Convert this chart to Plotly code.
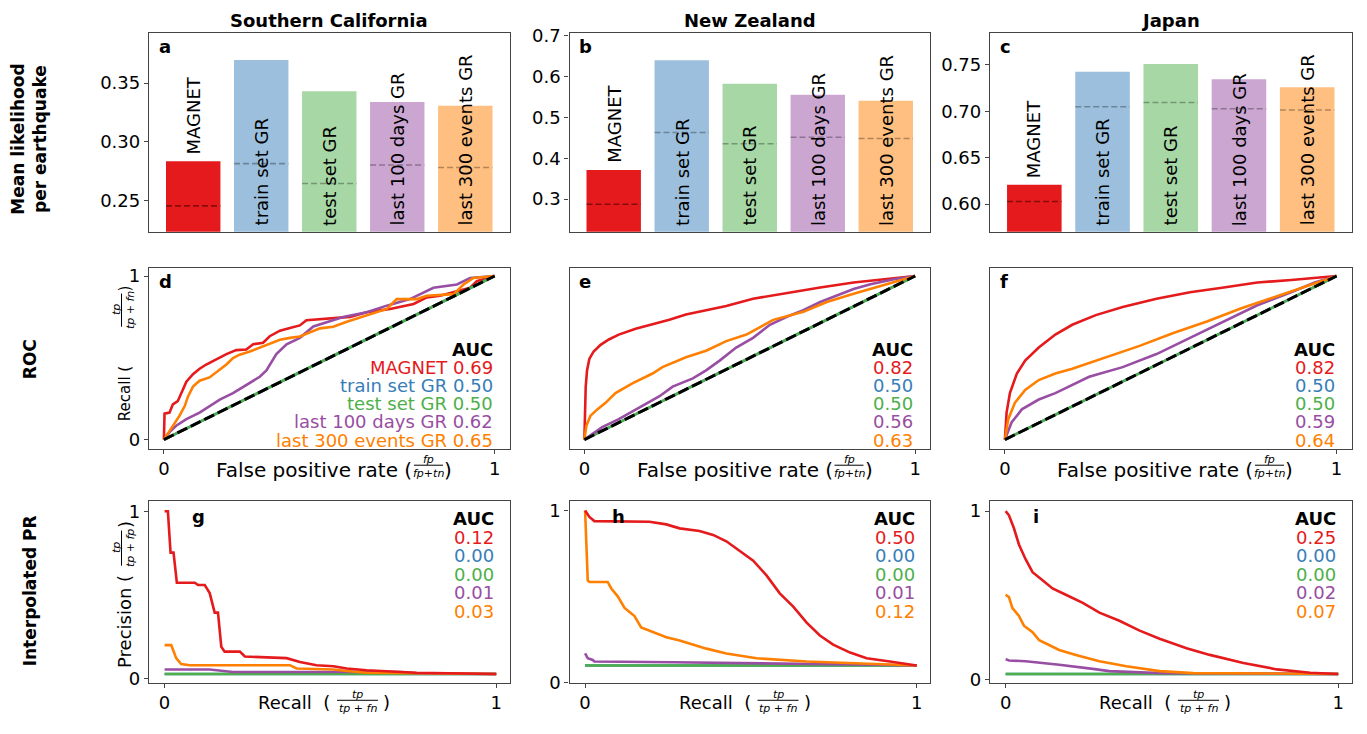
import plotly.graph_objects as go
from plotly.subplots import make_subplots

W, H = 1367, 734
FONT = "DejaVu Sans"

regions = ["Southern California", "New Zealand", "Japan"]
models = ["MAGNET", "train set GR", "test set GR", "last 100 days GR", "last 300 events GR"]
colors = ["#e41a1c", "#377eb8", "#4daf4a", "#984ea3", "#ff7f00"]
bar_colors = ["#e41a1c", "#9bbfdc", "#a6d7a4", "#cba6d1", "#ffbf80"]

# ---- mean likelihood per earthquake (bars) and reference (dashed) ----
ll_socal = [0.2833, 0.3697, 0.3431, 0.3339, 0.3308]
ll_socal_ref = [0.2453, 0.2814, 0.2644, 0.2802, 0.2781]
ll_nz = [0.371, 0.640, 0.5825, 0.555, 0.5407]
ll_nz_ref = [0.2873, 0.463, 0.4354, 0.4513, 0.4483]
ll_jp = [0.6207, 0.7426, 0.751, 0.7345, 0.7258]
ll_jp_ref = [0.6028, 0.7049, 0.7095, 0.7028, 0.7013]

# ---- AUC values ----
roc_auc_socal = ["0.69", "0.50", "0.50", "0.62", "0.65"]
roc_auc_nz = ["0.82", "0.50", "0.50", "0.56", "0.63"]
roc_auc_jp = ["0.82", "0.50", "0.50", "0.59", "0.64"]
pr_auc_socal = ["0.12", "0.00", "0.00", "0.01", "0.03"]
pr_auc_nz = ["0.50", "0.00", "0.00", "0.01", "0.12"]
pr_auc_jp = ["0.25", "0.00", "0.00", "0.02", "0.07"]

# ---- ROC curves ----
diag_x = [0, 1]
diag_y = [0, 1]

roc_socal_magnet_x = [0, 0.002, 0.017, 0.027, 0.042, 0.053, 0.068, 0.088, 0.108, 0.128, 0.148, 0.169, 0.189, 0.219, 0.249, 0.270, 0.300, 0.320, 0.351, 0.381, 0.411, 0.431, 0.512, 0.563, 0.613, 0.643, 0.684, 0.755, 0.795, 0.835, 0.896, 0.926, 0.946, 1]
roc_socal_magnet_y = [0, 0.159, 0.165, 0.215, 0.235, 0.284, 0.354, 0.400, 0.433, 0.459, 0.479, 0.503, 0.523, 0.547, 0.551, 0.583, 0.592, 0.632, 0.666, 0.682, 0.698, 0.730, 0.740, 0.750, 0.779, 0.789, 0.799, 0.829, 0.869, 0.879, 0.909, 0.928, 0.968, 1]
roc_socal_l300_x = [0, 0.012, 0.027, 0.047, 0.063, 0.073, 0.088, 0.108, 0.138, 0.169, 0.189, 0.209, 0.229, 0.260, 0.290, 0.320, 0.351, 0.381, 0.411, 0.472, 0.512, 0.553, 0.613, 0.674, 0.704, 0.765, 0.795, 0.876, 0.906, 0.936, 1]
roc_socal_l300_y = [0, 0.036, 0.085, 0.145, 0.205, 0.264, 0.324, 0.360, 0.380, 0.427, 0.459, 0.499, 0.519, 0.539, 0.563, 0.590, 0.610, 0.622, 0.630, 0.680, 0.690, 0.720, 0.759, 0.799, 0.859, 0.859, 0.879, 0.889, 0.948, 0.988, 1]
roc_socal_l100_x = [0, 0.017, 0.037, 0.068, 0.108, 0.138, 0.169, 0.209, 0.249, 0.290, 0.310, 0.340, 0.371, 0.411, 0.452, 0.512, 0.542, 0.613, 0.674, 0.744, 0.815, 0.886, 0.926, 1]
roc_socal_l100_y = [0, 0.046, 0.085, 0.125, 0.165, 0.205, 0.245, 0.284, 0.334, 0.384, 0.423, 0.523, 0.583, 0.622, 0.692, 0.730, 0.750, 0.779, 0.819, 0.859, 0.928, 0.948, 0.988, 1]

roc_nz_magnet_x = [0, 0.002, 0.004, 0.008, 0.015, 0.028, 0.049, 0.074, 0.104, 0.155, 0.206, 0.257, 0.307, 0.368, 0.429, 0.510, 0.612, 0.713, 0.814, 0.916, 1]
roc_nz_magnet_y = [0, 0.185, 0.324, 0.423, 0.493, 0.539, 0.579, 0.612, 0.642, 0.678, 0.706, 0.732, 0.765, 0.791, 0.817, 0.861, 0.897, 0.930, 0.960, 0.984, 1]
roc_nz_l300_x = [0, 0.006, 0.018, 0.039, 0.064, 0.094, 0.145, 0.206, 0.236, 0.307, 0.368, 0.429, 0.490, 0.571, 0.662, 0.733, 0.814, 0.916, 1]
roc_nz_l300_y = [0, 0.085, 0.145, 0.185, 0.225, 0.284, 0.344, 0.404, 0.443, 0.503, 0.543, 0.602, 0.642, 0.732, 0.781, 0.841, 0.891, 0.950, 1]
roc_nz_l100_x = [0, 0.054, 0.104, 0.155, 0.226, 0.267, 0.328, 0.368, 0.409, 0.459, 0.510, 0.561, 0.612, 0.662, 0.713, 0.814, 0.865, 0.936, 1]
roc_nz_l100_y = [0, 0.076, 0.125, 0.185, 0.264, 0.324, 0.374, 0.423, 0.483, 0.563, 0.622, 0.702, 0.751, 0.791, 0.841, 0.920, 0.950, 0.980, 1]

roc_jp_magnet_x = [0, 0.005, 0.015, 0.036, 0.061, 0.102, 0.152, 0.203, 0.274, 0.355, 0.457, 0.558, 0.660, 0.761, 0.863, 1]
roc_jp_magnet_y = [0, 0.165, 0.284, 0.404, 0.483, 0.563, 0.642, 0.702, 0.761, 0.811, 0.861, 0.901, 0.930, 0.960, 0.976, 1]
roc_jp_l300_x = [0, 0.010, 0.030, 0.061, 0.102, 0.152, 0.203, 0.305, 0.406, 0.508, 0.609, 0.711, 0.812, 0.914, 1]
roc_jp_l300_y = [0, 0.125, 0.225, 0.304, 0.364, 0.404, 0.433, 0.503, 0.573, 0.652, 0.722, 0.801, 0.871, 0.940, 1]
roc_jp_l100_x = [0, 0.020, 0.051, 0.102, 0.152, 0.193, 0.254, 0.355, 0.457, 0.558, 0.660, 0.761, 0.863, 0.934, 1]
roc_jp_l100_y = [0, 0.105, 0.185, 0.245, 0.284, 0.324, 0.384, 0.443, 0.523, 0.622, 0.722, 0.821, 0.901, 0.960, 1]

# ---- interpolated precision-recall curves ----
pr_socal_magnet_x = [0, 0.010, 0.018, 0.027, 0.037, 0.091, 0.101, 0.121, 0.136, 0.151, 0.161, 0.171, 0.181, 0.227, 0.242, 0.327, 0.368, 0.408, 0.458, 0.509, 0.549, 0.609, 0.670, 0.760, 1]
pr_socal_magnet_y = [1.0, 1.0, 0.753, 0.753, 0.573, 0.573, 0.559, 0.559, 0.511, 0.394, 0.394, 0.190, 0.161, 0.161, 0.132, 0.128, 0.122, 0.099, 0.080, 0.074, 0.060, 0.050, 0.045, 0.035, 0.027]
pr_socal_l300_x = [0, 0.020, 0.035, 0.050, 0.076, 0.378, 0.398, 0.509, 0.549, 0.609, 1]
pr_socal_l300_y = [0.200, 0.200, 0.122, 0.087, 0.080, 0.080, 0.060, 0.054, 0.045, 0.035, 0.027]
pr_socal_l100_x = [0, 0.136, 0.206, 0.710, 0.760, 1]
pr_socal_l100_y = [0.054, 0.054, 0.039, 0.039, 0.031, 0.027]
pr_socal_base = 0.027

pr_nz_magnet_x = [0, 0.013, 0.028, 0.114, 0.194, 0.245, 0.285, 0.345, 0.386, 0.426, 0.466, 0.507, 0.547, 0.587, 0.627, 0.668, 0.708, 0.748, 0.799, 0.849, 0.919, 1]
pr_nz_magnet_y = [1.0, 0.962, 0.938, 0.934, 0.934, 0.919, 0.896, 0.881, 0.858, 0.821, 0.764, 0.708, 0.623, 0.519, 0.443, 0.349, 0.274, 0.221, 0.175, 0.142, 0.123, 0.100]
pr_nz_l300_x = [0, 0.008, 0.013, 0.068, 0.079, 0.099, 0.119, 0.149, 0.169, 0.194, 0.245, 0.285, 0.325, 0.366, 0.426, 0.517, 0.668, 0.819, 1]
pr_nz_l300_y = [1.0, 0.594, 0.585, 0.585, 0.547, 0.500, 0.434, 0.387, 0.321, 0.302, 0.264, 0.245, 0.221, 0.198, 0.170, 0.142, 0.123, 0.113, 0.100]
pr_nz_l100_x = [0, 0.008, 0.023, 0.028, 0.265, 0.567, 0.869, 1]
pr_nz_l100_y = [0.170, 0.142, 0.132, 0.123, 0.119, 0.113, 0.104, 0.100]
pr_nz_base = 0.100

pr_jp_magnet_x = [0, 0.010, 0.025, 0.040, 0.060, 0.081, 0.111, 0.141, 0.181, 0.232, 0.282, 0.342, 0.403, 0.463, 0.544, 0.614, 0.715, 0.816, 0.916, 1]
pr_jp_magnet_y = [1.0, 0.975, 0.898, 0.802, 0.715, 0.638, 0.590, 0.542, 0.504, 0.456, 0.398, 0.350, 0.292, 0.244, 0.187, 0.148, 0.100, 0.062, 0.042, 0.035]
pr_jp_l300_x = [0, 0.010, 0.020, 0.040, 0.055, 0.081, 0.101, 0.131, 0.161, 0.211, 0.282, 0.363, 0.463, 0.564, 1]
pr_jp_l300_y = [0.504, 0.490, 0.427, 0.379, 0.321, 0.283, 0.235, 0.206, 0.177, 0.148, 0.110, 0.081, 0.052, 0.040, 0.035]
pr_jp_l100_x = [0, 0.010, 0.060, 0.161, 0.262, 0.312, 0.463, 1]
pr_jp_l100_y = [0.123, 0.115, 0.110, 0.090, 0.065, 0.052, 0.040, 0.035]
pr_jp_base = 0.035

bars = [(ll_socal, ll_socal_ref), (ll_nz, ll_nz_ref), (ll_jp, ll_jp_ref)]
roc = [
    [(roc_socal_magnet_x, roc_socal_magnet_y), (diag_x, diag_y), (diag_x, diag_y), (roc_socal_l100_x, roc_socal_l100_y), (roc_socal_l300_x, roc_socal_l300_y)],
    [(roc_nz_magnet_x, roc_nz_magnet_y), (diag_x, diag_y), (diag_x, diag_y), (roc_nz_l100_x, roc_nz_l100_y), (roc_nz_l300_x, roc_nz_l300_y)],
    [(roc_jp_magnet_x, roc_jp_magnet_y), (diag_x, diag_y), (diag_x, diag_y), (roc_jp_l100_x, roc_jp_l100_y), (roc_jp_l300_x, roc_jp_l300_y)],
]
pr = [
    [(pr_socal_magnet_x, pr_socal_magnet_y), ([0, 1], [pr_socal_base] * 2), ([0, 1], [pr_socal_base] * 2), (pr_socal_l100_x, pr_socal_l100_y), (pr_socal_l300_x, pr_socal_l300_y)],
    [(pr_nz_magnet_x, pr_nz_magnet_y), ([0, 1], [pr_nz_base] * 2), ([0, 1], [pr_nz_base] * 2), (pr_nz_l100_x, pr_nz_l100_y), (pr_nz_l300_x, pr_nz_l300_y)],
    [(pr_jp_magnet_x, pr_jp_magnet_y), ([0, 1], [pr_jp_base] * 2), ([0, 1], [pr_jp_base] * 2), (pr_jp_l100_x, pr_jp_l100_y), (pr_jp_l300_x, pr_jp_l300_y)],
]
roc_auc = [roc_auc_socal, roc_auc_nz, roc_auc_jp]
pr_auc = [pr_auc_socal, pr_auc_nz, pr_auc_jp]

bar_ranges = [[0.2233, 0.3925], [0.2203, 0.7055], [0.5702, 0.784]]
bar_ticks = [[0.25, 0.30, 0.35], [0.3, 0.4, 0.5, 0.6, 0.7], [0.60, 0.65, 0.70, 0.75]]
bar_fmt = [".2f", ".1f", ".2f"]
pr_yranges = [[-0.025, 1.064], [0.0, 1.057], [-0.017, 1.062]]

col_px = [(149, 509.5), (569.5, 930), (990, 1351.5)]
row_px = [(26, 229.3), (266.7, 451.7), (505, 691.7)]

fig = make_subplots(rows=3, cols=3)

def axn(r, c):
    i = r * 3 + c + 1
    return ("" if i == 1 else str(i))

annotations = []
shapes = []

def pann(x_px, y_px, text, size=18, xanchor="center", yanchor="middle", angle=0, color="black"):
    annotations.append(dict(x=x_px / W, y=1 - y_px / H, xref="paper", yref="paper", text=text,
                            showarrow=False, textangle=angle, xanchor=xanchor, yanchor=yanchor,
                            borderpad=0, borderwidth=0,
                            font=dict(family=FONT, size=size, color=color)))

def pline(x0, y0, x1, y1, width=1.0):
    shapes.append(dict(type="line", xref="paper", yref="paper", x0=x0 / W, y0=1 - y0 / H,
                       x1=x1 / W, y1=1 - y1 / H, line=dict(color="black", width=width)))

for c in range(3):
    L, R = col_px[c]
    # ---------------- row 1: bars ----------------
    vals, refs = bars[c]
    n = len(models)
    fig.add_trace(go.Bar(x=list(range(n)), y=vals, width=0.8, marker=dict(color=bar_colors, line=dict(width=0)),
                         showlegend=False), row=1, col=c + 1)
    for i in range(n):
        dcol = "rgba(60,0,0,0.55)" if i == 0 else "rgba(0,0,0,0.3)"
        fig.add_trace(go.Scatter(x=[i - 0.4, i + 0.4], y=[refs[i], refs[i]], mode="lines",
                                 line=dict(color=dcol, width=1.6, dash="6px,3px"), showlegend=False,
                                 hoverinfo="skip"), row=1, col=c + 1)
        a = axn(0, c)
        if i == 0:
            annotations.append(dict(x=i, y=vals[i], xref="x" + a, yref="y" + a, text=models[i], showarrow=False,
                                    textangle=-90, xanchor="center", yanchor="bottom", yshift=5,
                                    font=dict(family=FONT, size=18, color="black")))
        else:
            annotations.append(dict(x=i, y=0, xref="x" + a, yref="y" + a + " domain", text=models[i], showarrow=False,
                                    textangle=-90, xanchor="center", yanchor="bottom", yshift=4,
                                    font=dict(family=FONT, size=18, color="black")))
    # ---------------- row 2: ROC ----------------
    for k in range(5):
        xs, ys = roc[c][k]
        fig.add_trace(go.Scatter(x=xs, y=ys, mode="lines", line=dict(color=colors[k], width=2.6),
                                 showlegend=False), row=2, col=c + 1)
    fig.add_trace(go.Scatter(x=diag_x, y=diag_y, mode="lines", line=dict(color="black", width=3, dash="11px,4px"),
                             showlegend=False), row=2, col=c + 1)
    # ---------------- row 3: PR ----------------
    for k in [1, 2, 3, 4, 0]:
        xs, ys = pr[c][k]
        fig.add_trace(go.Scatter(x=xs, y=ys, mode="lines", line=dict(color=colors[k], width=2.6),
                                 showlegend=False), row=3, col=c + 1)

# axes
spine = dict(showline=True, mirror=True, linecolor="#444444", linewidth=1.3, showgrid=False, zeroline=False,
             tickfont=dict(family=FONT, size=18, color="black"), ticks="outside", ticklen=4, tickcolor="#444444")
for r in range(3):
    for c in range(3):
        L, R = col_px[c]
        T, B = row_px[r]
        xd = [L / W, R / W]
        yd = [1 - B / H, 1 - T / H]
        if r == 0:
            fig.update_xaxes(domain=xd, range=[-0.65, 4.65], showticklabels=False, row=1, col=c + 1,
                             **{**spine, "ticks": ""})
            fig.update_yaxes(domain=yd, range=bar_ranges[c], tickvals=bar_ticks[c], tickformat=bar_fmt[c],
                             row=1, col=c + 1, **spine)
        elif r == 1:
            fig.update_xaxes(domain=xd, range=[-0.045, 1.045], tickvals=[0, 1], ticktext=["0", "1"],
                             row=2, col=c + 1, **spine)
            if c == 0:
                fig.update_yaxes(domain=yd, range=[-0.055, 1.048], tickvals=[0, 1], ticktext=["0", "1"],
                                 row=2, col=1, **spine)
            else:
                fig.update_yaxes(domain=yd, range=[-0.055, 1.048], showticklabels=False, row=2, col=c + 1,
                                 **{**spine, "ticks": ""})
        else:
            fig.update_xaxes(domain=xd, range=[-0.047, 1.04], tickvals=[0, 1], ticktext=["0", "1"],
                             row=3, col=c + 1, **spine)
            fig.update_yaxes(domain=yd, range=pr_yranges[c], tickvals=[0, 1], ticktext=["0", "1"],
                             row=3, col=c + 1, **spine)

# column titles
for c in range(3):
    L, R = col_px[c]
    pann((L + R) / 2, 13, "<b>" + regions[c] + "</b>", size=18)

# row labels
pann(29, 135, "<b>Mean likelihood<br>per earthquake</b>", size=17, angle=-90)
pann(30, 360, "<b>ROC</b>", size=17, angle=-90)
pann(30, 598, "<b>Interpolated PR</b>", size=17, angle=-90)

# panel letters
letters = [["a", "b", "c"], ["d", "e", "f"], ["g", "h", "i"]]
letter_pos = [(9.5, 39), (9.5, 280.5), (42.5, 521)]
for r in range(3):
    for c in range(3):
        L, R = col_px[c]
        dx, yy = letter_pos[r]
        pann(L + dx, yy, "<b>" + letters[r][c] + "</b>", size=18, xanchor="left")

# AUC texts
for c in range(3):
    L, R = col_px[c]
    T, B = row_px[1]
    pann(R - 17, T + 83.3, "<b>AUC</b>", xanchor="right")
    for k in range(5):
        lab = (models[k] + " " + roc_auc[c][k]) if c == 0 else roc_auc[c][k]
        pann(R - 17, T + 83.3 + 18.6 * (k + 1), lab, xanchor="right", color=colors[k])
    T, B = row_px[2]
    pann(R - 15.5, T + 18.3, "<b>AUC</b>", xanchor="right")
    for k in range(5):
        pann(R - 15.5, T + 18.3 + 19.0 * (k + 1), pr_auc[c][k], xanchor="right", color=colors[k])

FR = 11  # fraction font size

# axis titles with fractions
for c in range(3):
    L, R = col_px[c]
    B = row_px[1][1]
    pann(L + 263, B + 21.5, "False positive rate (", size=20, xanchor="right")
    pann(L + 279.5, B + 11, "<i>fp</i>", size=FR)
    pline(L + 265, B + 17, L + 294, B + 17)
    pann(L + 279.5, B + 25.5, "<i>fp</i>+<i>tn</i>", size=FR)
    pann(L + 295, B + 21.5, ")", size=20, xanchor="left")
    B = row_px[2][1]
    pann(L + 181, B + 20, "Recall  (", xanchor="right")
    pann(L + 208.5, B + 12.5, "<i>tp</i>", size=FR)
    pline(L + 188, B + 18, L + 229, B + 18)
    pann(L + 208.5, B + 26, "<i>tp</i> + <i>fn</i>", size=FR)
    pann(L + 234, B + 20, ")", xanchor="left")

# y titles
L = col_px[0][0]
B = row_px[1][1]
pann(L - 24, B - 84, "Recall (", size=15, angle=-90, yanchor="top")
pann(L - 33, B - 142, "<i>tp</i>", size=FR, angle=-90)
pline(L - 27.5, B - 159, L - 27.5, B - 125)
pann(L - 19, B - 142, "<i>tp</i> + <i>fn</i>", size=FR, angle=-90)
pann(L - 24, B - 161, ")", size=15, angle=-90, yanchor="bottom")
B = row_px[2][1]
pann(L - 24, B - 110, "Precision (", angle=-90, yanchor="top")
pann(L - 33, B - 138, "<i>tp</i>", size=FR, angle=-90)
pline(L - 27.5, B - 156, L - 27.5, B - 120)
pann(L - 19, B - 138, "<i>tp</i> + <i>fp</i>", size=FR, angle=-90)
pann(L - 24, B - 158, ")", angle=-90, yanchor="bottom")

fig.update_layout(width=W, height=H, margin=dict(l=0, r=0, t=0, b=0), plot_bgcolor="white",
                  paper_bgcolor="white", showlegend=False, annotations=annotations, shapes=shapes,
                  bargap=0.2, font=dict(family=FONT, size=18, color="black"))

fig.write_html("out.html")
